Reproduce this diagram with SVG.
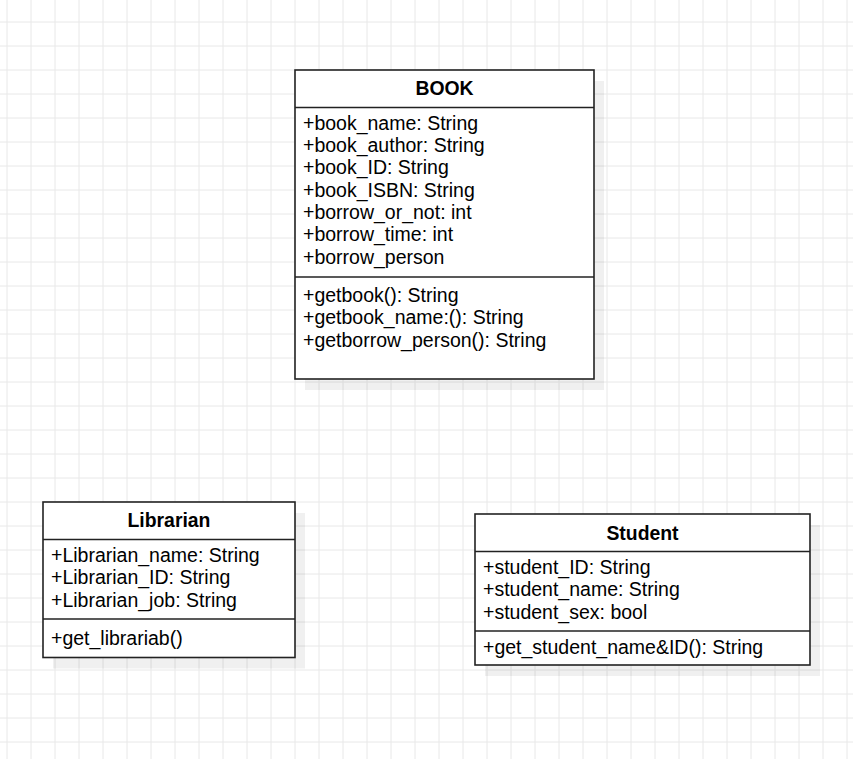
<svg xmlns="http://www.w3.org/2000/svg" width="853" height="759" viewBox="0 0 853 759">
  <style>
    .box { fill: #ffffff; stroke: #222222; stroke-width: 1.6; }
    .shadow { fill: #000000; fill-opacity: 0.06; }
    .div { stroke: #222222; stroke-width: 1.6; fill: none; }
    .title { font-family: "Liberation Sans", Arial, sans-serif; font-size: 19.4px; font-weight: bold; fill: #000000; text-anchor: middle; }
    .txt { font-family: "Liberation Sans", Arial, sans-serif; font-size: 19.5px; fill: #000000; }
  </style>
  <defs>
    <pattern id="grid" patternUnits="userSpaceOnUse" x="0" y="0" width="24" height="24">
      <path d="M7 0 V24 M0 22 H24" stroke="#e8e8e8" stroke-width="1" fill="none"/>
    </pattern>
  </defs>
  <rect x="0" y="0" width="853" height="759" fill="#ffffff"/>
  <rect x="0" y="0" width="853" height="759" fill="url(#grid)"/>

  <g id="connectors"></g>

  <g id="book">
    <rect class="shadow" x="305" y="81" width="299" height="309"/>
    <rect class="box" x="295" y="70" width="299" height="309"/>
    <line class="div" x1="295" y1="107.5" x2="594" y2="107.5"/>
    <line class="div" x1="295" y1="277" x2="594" y2="277"/>
    <text class="title" x="444.5" y="95">BOOK</text>
    <text class="txt" x="303" y="129.5">+book_name: String</text>
    <text class="txt" x="303" y="152">+book_author: String</text>
    <text class="txt" x="303" y="174.3">+book_ID: String</text>
    <text class="txt" x="303" y="196.6">+book_ISBN: String</text>
    <text class="txt" x="303" y="218.9">+borrow_or_not: int</text>
    <text class="txt" x="303" y="241.2">+borrow_time: int</text>
    <text class="txt" x="303" y="263.5">+borrow_person</text>
    <text class="txt" x="303" y="301.7">+getbook(): String</text>
    <text class="txt" x="303" y="324.3">+getbook_name:(): String</text>
    <text class="txt" x="303" y="347">+getborrow_person(): String</text>
  </g>

  <g id="librarian">
    <rect class="shadow" x="53" y="513" width="252" height="155.5"/>
    <rect class="box" x="43" y="502" width="252" height="155.5"/>
    <line class="div" x1="43" y1="539.5" x2="295" y2="539.5"/>
    <line class="div" x1="43" y1="619" x2="295" y2="619"/>
    <text class="title" x="169" y="527">Librarian</text>
    <text class="txt" x="51" y="561.7">+Librarian_name: String</text>
    <text class="txt" x="51" y="584.2">+Librarian_ID: String</text>
    <text class="txt" x="51" y="606.7">+Librarian_job: String</text>
    <text class="txt" x="51" y="645">+get_librariab()</text>
  </g>

  <g id="student">
    <rect class="shadow" x="485" y="525" width="335" height="151"/>
    <rect class="box" x="475" y="514" width="335" height="151"/>
    <line class="div" x1="475" y1="551.5" x2="810" y2="551.5"/>
    <line class="div" x1="475" y1="631" x2="810" y2="631"/>
    <text class="title" x="642.5" y="539.5">Student</text>
    <text class="txt" x="483" y="573.7">+student_ID: String</text>
    <text class="txt" x="483" y="596.2">+student_name: String</text>
    <text class="txt" x="483" y="618.5">+student_sex: bool</text>
    <text class="txt" x="483" y="654.3">+get_student_name&amp;ID(): String</text>
  </g>
</svg>
